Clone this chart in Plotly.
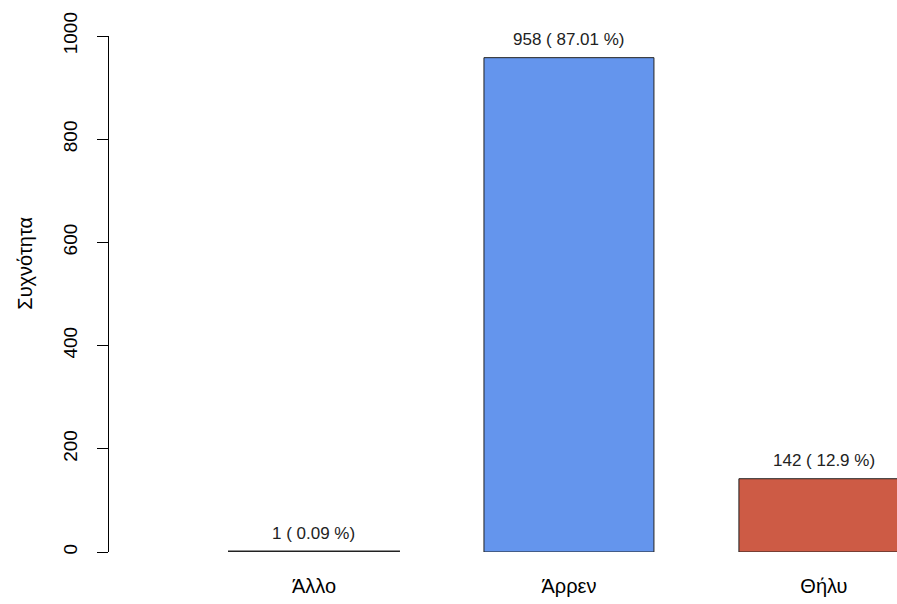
import plotly.graph_objects as go

# Frequency of each category
categories = ["Άλλο", "Άρρεν", "Θήλυ"]
counts = [1, 958, 142]
percents = ["0.09", "87.01", "12.9"]
colors = ["#000000", "#6495ED", "#CD5B45"]
y_ticks = [0, 200, 400, 600, 800, 1000]

# barplot layout: width 1, space 0.5 between bars
centers = [1.0 + 1.5 * i for i in range(len(categories))]

font_family = "Liberation Sans, Arial, sans-serif"

fig = go.Figure()
fig.add_trace(go.Bar(
    x=centers,
    y=counts,
    width=1.0,
    marker=dict(color=colors, line=dict(color="#222222", width=[2, 1, 1])),
    hoverinfo="skip",
))

for xc, c, p in zip(centers, counts, percents):
    fig.add_annotation(
        x=xc, y=c, text=f"{c} ( {p} %)", showarrow=False,
        yshift=18, font=dict(family=font_family, size=17, color="#222222"),
    )

# y-axis title
fig.add_annotation(
    x=-0.107, y=0.56, xref="paper", yref="paper",
    text="Συχνότητα", textangle=-90, showarrow=False,
    xanchor="center", yanchor="middle",
    font=dict(family=font_family, size=20, color="#000000"),
)

fig.update_layout(
    width=897, height=604,
    margin=dict(l=109, r=0, t=36, b=52),
    paper_bgcolor="white", plot_bgcolor="white",
    showlegend=False,
    font=dict(family=font_family, size=17, color="#000000"),
    xaxis=dict(
        range=[-0.206, 4.43],
        tickmode="array", tickvals=centers, ticktext=categories,
        ticks="", showline=False, showgrid=False, zeroline=False,
        tickfont=dict(size=20), ticklabelstandoff=20,
    ),
    yaxis=dict(
        range=[0, 1000],
        tickmode="array", tickvals=y_ticks,
        ticks="outside", ticklen=11, tickcolor="#000000", tickwidth=1,
        showline=True, linecolor="#000000", linewidth=1,
        showgrid=False, zeroline=False,
        tickangle=-90, tickfont=dict(size=19), ticklabelstandoff=12,
    ),
)

fig.write_html("out.html")
